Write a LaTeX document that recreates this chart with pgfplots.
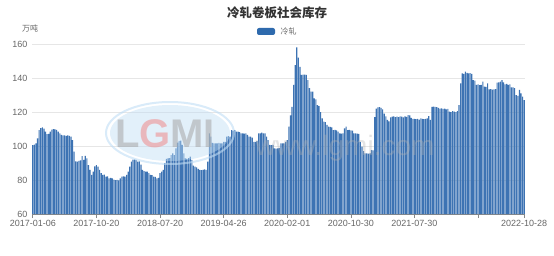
\documentclass[border=0pt]{standalone}
\usepackage{pgfplots}
\usepackage{pgfplotstable}
\pgfplotsset{compat=1.18}
\usepackage{fontspec}
\setmainfont{Liberation Sans}
\newfontfamily\cjk{Noto Sans CJK SC}
\definecolor{barblue}{HTML}{3D73B3}
\definecolor{legblue}{HTML}{2E6AAD}
\definecolor{txtgray}{HTML}{666666}
\definecolor{titgray}{HTML}{333333}
\definecolor{gridgray}{HTML}{E6E6E6}
\definecolor{axgray}{HTML}{888888}
\definecolor{wmblue}{HTML}{BFDDF5}
\definecolor{wmpink}{HTML}{F08A8A}
\pgfplotstableread{
v
100.5
100.8
101.5
104.5
109.4
110.5
111
110.2
108.4
107
107.2
108.5
109.6
110
109.8
109.5
108.4
107.5
106.5
106.2
106.3
106
106.2
106
105.5
103.5
96.7
91
90.8
91.2
91.5
94
91.8
94.2
92.7
88.8
86
83
85
88
88.8
87.8
86
84
83
83.2
82
82.2
81
81.3
81
80.2
80
80.1
79.8
81
82
82.2
82
83
85
87.8
90.8
92
92.2
91.8
90.8
91
89
86
85.2
85
85
84
83
82.8
82
81.8
81
81.2
84
85
86
90
92.5
92.7
92.8
94.7
95.7
94.7
98.6
102
103
103.2
100.6
95.7
92.7
92.5
92.8
93.7
91.8
88.5
87.8
87.5
86.5
86
85.8
86
86.2
86
90.8
107.5
105.5
101.8
101.6
101.5
101.6
101.8
101.6
101.5
102.5
102.5
105.5
105.8
105.5
109.4
109
109.4
108.4
108.5
108.2
107.5
107.5
107.3
107.5
106.5
105.5
105.5
105
102.5
102.5
102.8
107.5
107.5
107.8
107.5
107.5
105.5
103.5
100.6
100.5
100.6
98.6
98.5
98.6
98.8
101.6
101.5
101.6
102.5
103.5
111.4
118
123
136
147.6
158
152
146.5
141.8
142
142
141.8
138.8
134
132
132
128
127.5
124
123.5
120
116.3
114.3
114
112.5
111.4
111.2
111
109.4
109.5
109.2
108.4
107.5
107.3
107.5
110.4
111.4
109.4
109.5
109.2
109
107.5
107.5
107.3
107.2
102.5
99.6
97
95.7
95.7
95.5
95.7
97.6
97.5
117
122
122.7
122.8
122.5
121.5
119
117.5
115.3
114.5
116.8
117.3
117.5
117
117.3
117
117.5
117.3
116.8
117.5
117.2
118.2
118
116.5
116
116
115.8
116
115.5
116.3
116
115.8
116
116.2
117.6
115.3
123
123.2
123
122.8
122.5
122
122.2
121.8
122
121.5
121.8
120.2
120
120.5
120.2
120
120.5
124
136.9
142.7
142.5
143.7
143
142.7
142.8
142.5
138.8
138.5
136
136.2
135.8
136
137.8
134.9
134.8
136.9
133.3
133.5
133.2
133.3
133.5
137.3
137.5
137.8
138.8
137.5
136.3
136.5
136
136.3
134.5
134.5
134
130
129.5
133
131
129
127
}\datatable
\begin{document}
\begin{tikzpicture}[x=1pt,y=1pt]
\useasboundingbox (0,0) rectangle (554,255);
\begin{axis}[
  at={(32pt,41pt)}, anchor=south west,
  scale only axis, width=493pt, height=170pt,
  xmin=-0.5, xmax=309.5, ymin=60, ymax=160,
  ytick={60,80,100,120,140,160},
  xtick={0,40,80,120,160,200,240,280,309},
  xticklabels={2017-01-06,2017-10-20,2018-07-20,2019-04-26,2020-02-01,2020-10-30,2021-07-30,,2022-10-28},
  ymajorgrids, grid style={gridgray, line width=0.6pt},
  axis y line*=left, axis x line*=bottom,
  y axis line style={draw=none},
  x axis line style={axgray, line width=0.6pt},
  major tick length=4pt,
  ytick style={draw=none},
  xtick style={axgray, line width=0.6pt},
  xtick align=outside,
  tick label style={text=txtgray, font=\fontsize{9}{10}\selectfont},
  /pgf/number format/assume math mode=true,
  yticklabel style={xshift=-1pt},
  xticklabel style={yshift=1pt},
  clip=true,
]
\addplot[ybar, bar width=0.72, fill=barblue, draw=none] table[x expr=\coordindex, y=v] {\datatable};
\end{axis}
% watermark (drawn over the bars, translucent)
\fill[wmblue, opacity=0.45] (170,122) ellipse (60 and 28);
\draw[wmblue, opacity=0.6, line width=2pt] (170,122) ellipse (64 and 31);
\node[font=\bfseries\fontsize{40}{40}\selectfont, opacity=0.55] at (165,121) {\textcolor{gray!70}{L}\textcolor{wmpink}{G}\textcolor{gray!70}{MI}};
\node[text=gray!60, font=\fontsize{28}{28}\selectfont, opacity=0.35] at (345,107) {www.lgmi.com};
\node[text=titgray, font=\cjk\bfseries\fontsize{12.5}{13}\selectfont] at (277,242) {冷轧卷板社会库存};
\node[text=txtgray, font=\cjk\fontsize{8}{9}\selectfont] at (30,227) {万吨};
\fill[legblue, rounded corners=2pt] (257,220) rectangle (275,227);
\node[text=txtgray, font=\cjk\fontsize{8}{9}\selectfont, anchor=west] at (277,223.5) {冷轧};
\end{tikzpicture}
\end{document}
